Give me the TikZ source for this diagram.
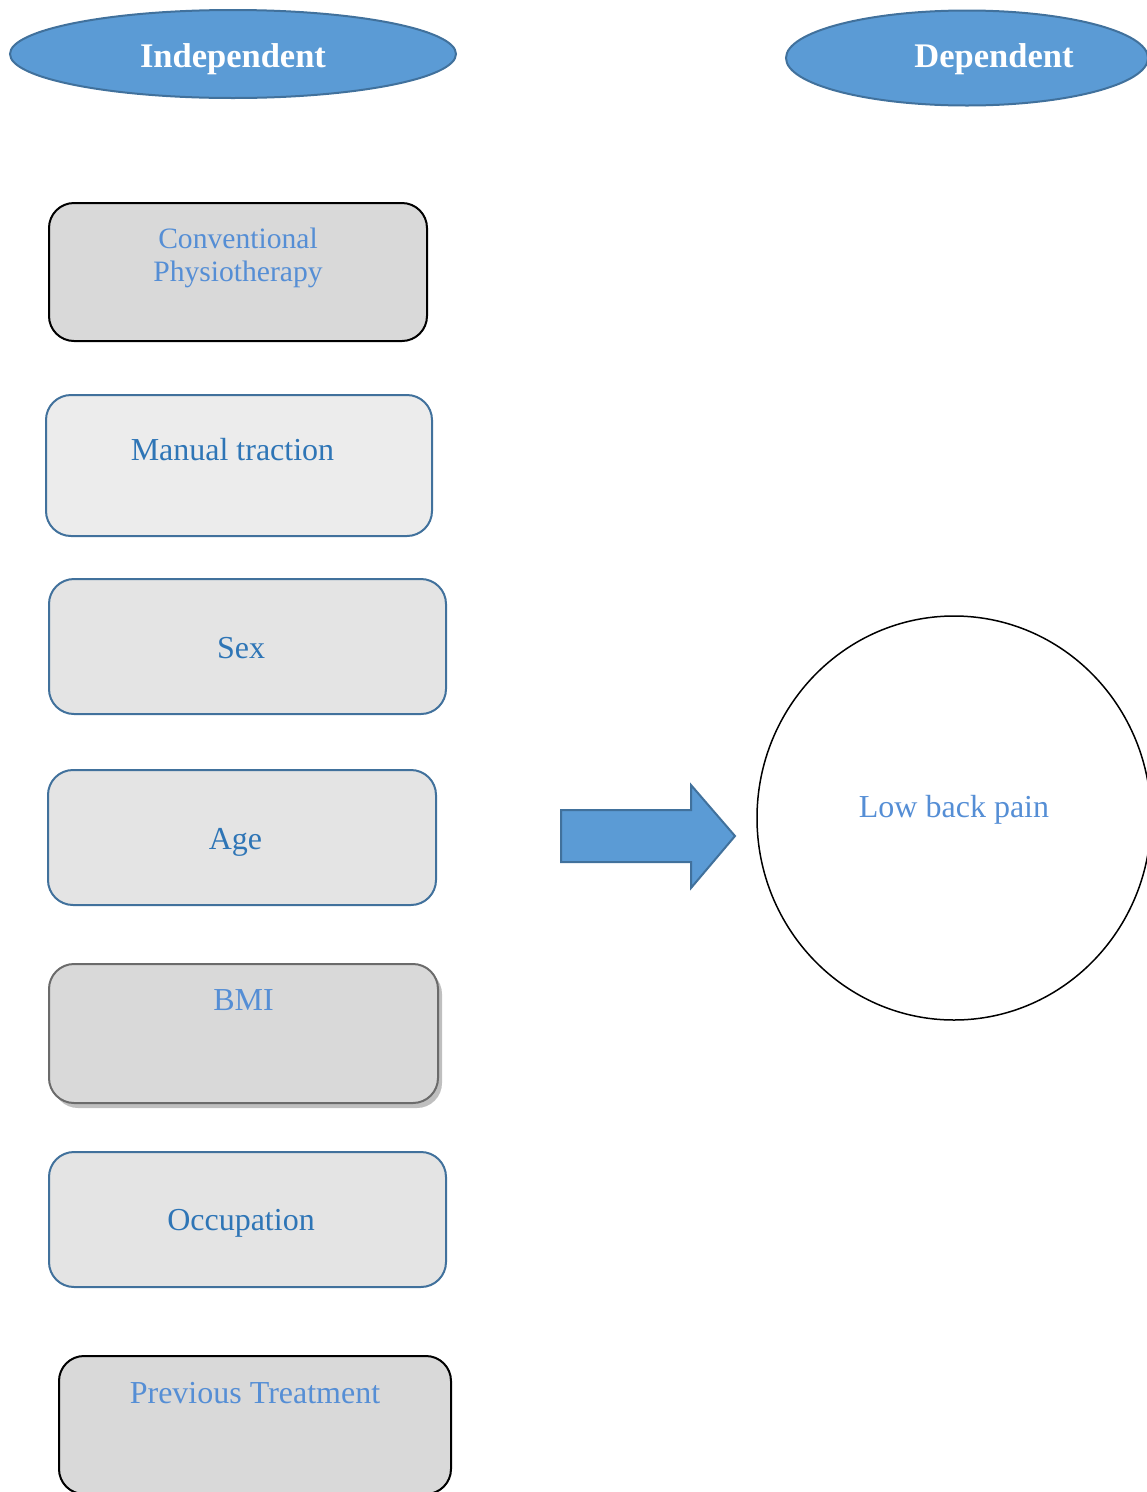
\documentclass[tikz,border=0pt]{standalone}
\usepackage{fontspec}
\setmainfont{Liberation Serif}
\usetikzlibrary{shapes.geometric, shadows}
\definecolor{varfill}{HTML}{5B9BD5}
\definecolor{varline}{HTML}{41719C}
\definecolor{softink}{HTML}{558ED5}
\definecolor{deepink}{HTML}{2E75B6}
\definecolor{boxgray}{HTML}{D9D9D9}
\definecolor{boxmid}{HTML}{E4E4E4}
\definecolor{boxpale}{HTML}{ECECEC}

\begin{document}
\begin{tikzpicture}[x=1pt, y=-1pt,
    head/.style={ellipse, draw=varline, fill=varfill, line width=2pt, inner sep=0pt,
      text=white, font=\fontsize{34.5}{40}\selectfont\bfseries},
    box/.style={draw, line width=2pt, rounded corners=25pt, inner sep=0pt,
      font=\fontsize{32}{36}\selectfont},
    plainbox/.style={box, draw=varline, fill=boxmid, text=deepink,
      execute at begin node=\hspace*{-13pt}},
    graybox/.style={box, draw=black, fill=boxgray, text=softink}]

  \useasboundingbox (0,0) rectangle (1147,1492);

  \node[head, minimum width=446pt, minimum height=88pt, text height=26pt, text depth=0pt] (indep)
    at (233,54) {Independent};
  \node[head, minimum width=362pt, minimum height=95pt, text height=24pt, text depth=6pt] (dep)
    at (967,58) {\hspace*{54pt}Dependent};

  \node[graybox, minimum width=378pt, minimum height=138pt, text width=320pt, align=center,
    font=\fontsize{29.6}{33.5}\selectfont, text height=10pt, text depth=58pt] (conv)
    at (238,272) {Conventional\\Physiotherapy};
  \node[plainbox, fill=boxpale, minimum width=386pt, minimum height=141pt,
    text height=20pt, text depth=31pt] (traction)
    at (239,465.5) {Manual traction};
  \node[plainbox, minimum width=397pt, minimum height=135pt, text height=35pt, text depth=12pt] (sex)
    at (247.5,646.5) {Sex};
  \node[plainbox, minimum width=388pt, minimum height=135pt, text height=36pt, text depth=13pt] (age)
    at (242,837.5) {Age};
  \node[graybox, draw=black!58, minimum width=389pt, minimum height=139pt, text height=10pt, text depth=57pt,
    general shadow={fill=black!25, shadow xshift=4pt, shadow yshift=-5pt}] (bmi)
    at (243.5,1033.5) {BMI};
  \node[plainbox, minimum width=397pt, minimum height=135pt, text height=34pt, text depth=13pt] (occ)
    at (247.5,1219.5) {Occupation};
  \node[graybox, minimum width=392pt, minimum height=138pt, text height=12pt, text depth=56pt] (prev)
    at (255,1425) {Previous Treatment};

  \draw[fill=varfill, draw=varline, line width=2pt, line join=miter]
    (561,810) -- (691,810) -- (691,785) -- (735,836) -- (691,888) -- (691,862) -- (561,862) -- cycle;

  \node[ellipse, draw, line width=1.5pt, inner sep=0pt, minimum width=394pt, minimum height=404pt,
    text=softink, font=\fontsize{32}{36}\selectfont, text height=20pt, text depth=22pt] (pain)
    at (954,818) {Low back pain};
\end{tikzpicture}
\end{document}
